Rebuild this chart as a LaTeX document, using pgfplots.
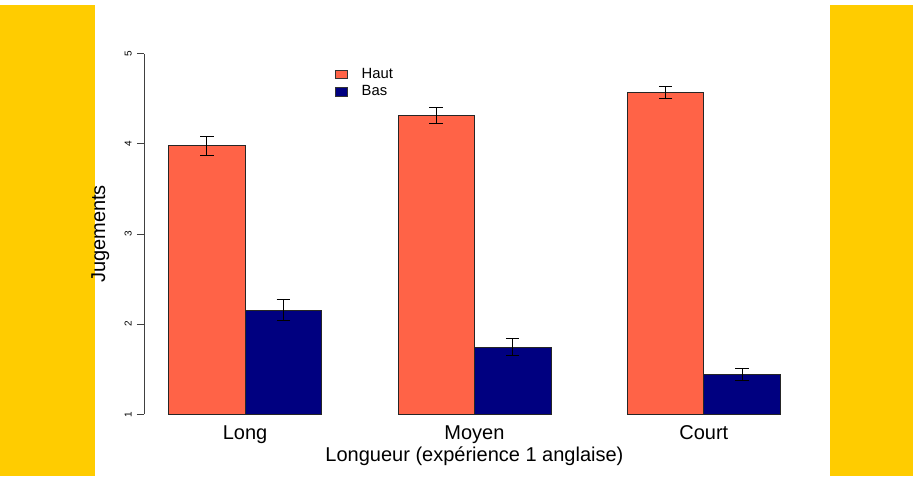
\documentclass[border=0pt]{standalone}
\usepackage{fontspec}
\setmainfont{Liberation Sans}
\usepackage{pgfplots}
\pgfplotsset{compat=1.18}
\usetikzlibrary{backgrounds}
\definecolor{haut}{HTML}{FF6347}
\definecolor{bas}{HTML}{000080}
\definecolor{jaune}{HTML}{FFCC00}

\begin{document}
\begin{tikzpicture}[x=0.75pt,y=0.75pt]
\begin{axis}[
    scale only axis, width=495.4pt, height=281.4pt,
    xmin=0.68, xmax=9.32, ymin=1, ymax=5.16,
    axis y line*=left, axis x line*=bottom,
    x axis line style={draw=none}, y axis line style={draw=none},
    xtick={2,5,8}, xticklabels={Long,Moyen,Court},
    xtick style={draw=none},
    ytick={1,2,3,4,5},
    tick align=outside, major tick length=5.5pt,
    ytick style={black!75, line width=0.6pt},
    x tick label style={font=\fontsize{15}{18}\selectfont, anchor=base, yshift=-13.4pt},
    y tick label style={font=\fontsize{7.5}{9}\selectfont, rotate=90, anchor=base},
    yticklabel shift=4pt,
    /pgf/number format/assume math mode=true,
    every axis x label/.style={at={(rel axis cs:0.5,0)}, anchor=base, yshift=-35.6pt, font=\fontsize{15}{18}\selectfont},
    every axis y label/.style={at={(rel axis cs:0,0.4808)}, xshift=-33pt, rotate=90, anchor=center, font=\fontsize{15}{18}\selectfont},
    xlabel={Longueur (expérience 1 anglaise)},
    ylabel={Jugements},
    legend style={draw=none, fill=none, inner sep=0pt, outer sep=0pt,
        at={(rel axis cs:0.2889,0.8824)}, anchor=west,
        font=\fontsize{11.1}{13}\selectfont,
        nodes={inner sep=0pt, text height=8pt, text depth=2.3pt},
        row sep=3pt,
        /tikz/every odd column/.append style={column sep=10.7pt}},
    legend cell align=left,
    legend image code/.code={\draw[#1, draw=black!80, line width=0.5pt] (0pt,-3.2pt) rectangle (8.8pt,3.2pt);},
]

\addplot[ybar, bar width=1, bar shift=0pt, fill=haut, draw=black!85, line width=0.6pt,
    error bars/.cd, y dir=both, y explicit, error mark=|,
    error bar style={black, line width=0.6pt},
    error mark options={black, mark size=5.1pt, line width=0.6pt}]
coordinates {
    (1.5,3.98)  +- (0,0.105)
    (4.5,4.315) +- (0,0.085)
    (7.5,4.573) +- (0,0.065)
};

\addplot[ybar, bar width=1, bar shift=0pt, fill=bas, draw=black!85, line width=0.6pt,
    error bars/.cd, y dir=both, y explicit, error mark=|,
    error bar style={black, line width=0.6pt},
    error mark options={black, mark size=5.1pt, line width=0.6pt}]
coordinates {
    (2.5,2.156) +- (0,0.12)
    (5.5,1.746) +- (0,0.093)
    (8.5,1.443) +- (0,0.07)
};

\legend{Haut,Bas}

\coordinate (sw) at (rel axis cs:0,0);
\coordinate (a1) at (axis cs:0.68,1);
\coordinate (a5) at (axis cs:0.68,5);
\end{axis}
\draw[black!75, line width=0.6pt] (a1) -- (a5);
% fond et bandes jaunes (1 unite = 1 pixel), places par rapport a l'axe
\begin{scope}[on background layer, shift={(sw)}, shift={(-144.2,-61.7)}]
\fill[white] (0,0) rectangle (913,476);
\fill[jaune] (0,0) rectangle (95,471);
\fill[jaune] (830,0) rectangle (913,471);
\end{scope}
\end{tikzpicture}
\end{document}
